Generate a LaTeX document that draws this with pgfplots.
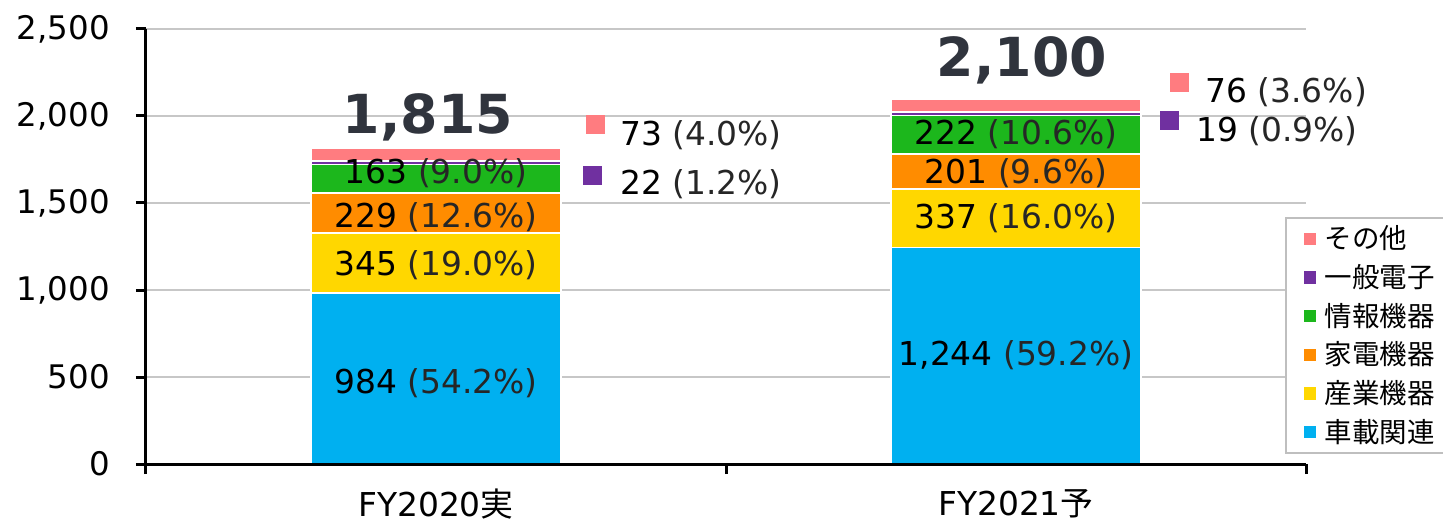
\documentclass[border=0pt]{standalone}
\usepackage{pgfplots}
\pgfplotsset{compat=1.18}
\usepackage{fontspec}
\setmainfont{DejaVu Sans}
\newfontfamily\cjk{Noto Sans CJK JP}
\definecolor{cPink}{HTML}{FF7C80}
\definecolor{cPurple}{HTML}{7030A0}
\definecolor{cGreen}{HTML}{1CB71C}
\definecolor{cOrange}{HTML}{FF8C00}
\definecolor{cYellow}{HTML}{FFD700}
\definecolor{cBlue}{HTML}{00B0F0}
\definecolor{cTotal}{HTML}{30343D}
\newcommand{\seg}[2]{#1 {\color{black!85}(#2)}}
\pgfplotsset{sq/.style={legend image code/.code={\fill[##1] (0bp,-3.5bp) rectangle (7bp,3.5bp);}}}
\begin{document}
\begin{tikzpicture}
\useasboundingbox (-73bp,-29bp) rectangle (648.5bp,232bp);
\begin{axis}[
  at={(0,0)}, anchor=south west,
  scale only axis, width=580bp, height=217.5bp,
  xmin=0, xmax=2, ymin=0, ymax=2500,
  ybar stacked, bar width=125bp,
  axis line style={draw=none},
  xtick pos=bottom, ytick pos=left,
  tick align=outside, major tick length=5bp,
  tick style={black, line width=1.5bp},
  xtick={0,1,2}, xticklabels={},
  extra x ticks={0.5,1.5},
  extra x tick labels={FY2020{\cjk 実},FY2021{\cjk 予}},
  extra x tick style={major tick length=0pt, tick label style={yshift=-9bp}},
  xticklabel style={font=\fontsize{16.5}{17}\selectfont},
  ytick={0,500,...,2500},
  yticklabel style={font=\fontsize{16.3}{17}\selectfont, xshift=-9.5bp},
  /pgf/number format/1000 sep={,},
  /pgf/number format/assume math mode=true,
  ymajorgrids, grid style={black!22, line width=1.2bp},
  legend reversed,
  legend cell align=left,
  legend style={at={(0.982,0.568)}, anchor=north west, draw=black!25, line width=0.8bp,
    font=\cjk\fontsize{13.8}{14}\selectfont, row sep=3.3bp, inner xsep=8bp, inner ysep=2.5bp,
    nodes={inner sep=1.5bp}, column sep=2bp},
  clip=false,
  after end axis/.code={\draw[black, line width=1.5bp] (rel axis cs:0,1) -- (rel axis cs:0,0) -- (rel axis cs:1,0);},
]
\addplot[fill=cBlue, draw=white, line width=0.8bp, sq] coordinates {(0.5,984) (1.5,1244)};
\addlegendentry{車載関連}
\addplot[fill=cYellow, draw=white, line width=0.8bp, sq] coordinates {(0.5,345) (1.5,337)};
\addlegendentry{産業機器}
\addplot[fill=cOrange, draw=white, line width=0.8bp, sq] coordinates {(0.5,229) (1.5,201)};
\addlegendentry{家電機器}
\addplot[fill=cGreen, draw=white, line width=0.8bp, sq] coordinates {(0.5,163) (1.5,222)};
\addlegendentry{情報機器}
\addplot[fill=cPurple, draw=white, line width=0.8bp, sq] coordinates {(0.5,22) (1.5,19)};
\addlegendentry{一般電子}
\addplot[fill=cPink, draw=white, line width=0.8bp, sq] coordinates {(0.5,73) (1.5,76)};
\addlegendentry{その他}
\end{axis}
\begin{axis}[
  at={(0,0)}, anchor=south west,
  scale only axis, width=580bp, height=217.5bp,
  xmin=0, xmax=2, ymin=0, ymax=2500,
  hide axis, clip=false,
]
\addplot[only marks, mark=square*, mark size=4.5bp, color=cPink] coordinates {(0.774,1951) (1.781,2195)};
\addplot[only marks, mark=square*, mark size=4.5bp, color=cPurple] coordinates {(0.769,1661) (1.764,1974)};
\begin{scope}[every node/.style={font=\fontsize{16.5}{17}\selectfont, inner sep=0pt}]
\node at (axis cs:0.5,465) {\seg{984}{54.2\%}};
\node at (axis cs:0.5,1144) {\seg{345}{19.0\%}};
\node at (axis cs:0.5,1420) {\seg{229}{12.6\%}};
\node at (axis cs:0.5,1672) {\seg{163}{9.0\%}};
\node at (axis cs:1.5,626) {\seg{1,244}{59.2\%}};
\node at (axis cs:1.5,1414) {\seg{337}{16.0\%}};
\node at (axis cs:1.5,1672) {\seg{201}{9.6\%}};
\node at (axis cs:1.5,1897) {\seg{222}{10.6\%}};
\node[anchor=west] at (axis cs:0.817,1892) {\seg{73}{4.0\%}};
\node[anchor=west] at (axis cs:0.817,1610) {\seg{22}{1.2\%}};
\node[anchor=west] at (axis cs:1.826,2139) {\seg{76}{3.6\%}};
\node[anchor=west] at (axis cs:1.810,1915) {\seg{19}{0.9\%}};
\end{scope}
\node[font=\bfseries\fontsize{27}{27}\selectfont, text=cTotal] at (axis cs:0.486,1990) {1,815};
\node[font=\bfseries\fontsize{27}{27}\selectfont, text=cTotal] at (axis cs:1.51,2322) {2,100};
\end{axis}
\end{tikzpicture}
\end{document}
